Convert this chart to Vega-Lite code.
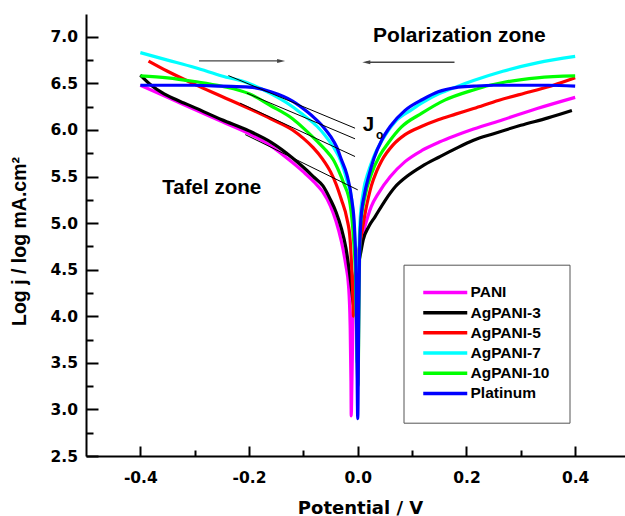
{
  "$schema": "https://vega.github.io/schema/vega-lite/v6.json",
  "width": 539,
  "height": 442,
  "autosize": {"type": "none"},
  "padding": {"left": 86, "top": 14, "right": 0, "bottom": 60},
  "background": "white",
  "config": {"view": {"stroke": null}, "axis": {"grid": false}},
  "resolve": {"axis": {"x": "independent", "y": "independent"}},
  "datasets": {
    "curves": [
      {"s":"PANI","x":-0.40,"y":6.48},{"s":"PANI","x":-0.35,"y":6.35},{"s":"PANI","x":-0.30,"y":6.22},{"s":"PANI","x":-0.25,"y":6.09},{"s":"PANI","x":-0.20,"y":5.96},{"s":"PANI","x":-0.16,"y":5.83},{"s":"PANI","x":-0.12,"y":5.65},{"s":"PANI","x":-0.10,"y":5.55},{"s":"PANI","x":-0.08,"y":5.44},{"s":"PANI","x":-0.065,"y":5.34},{"s":"PANI","x":-0.05,"y":5.18},{"s":"PANI","x":-0.04,"y":5.02},{"s":"PANI","x":-0.03,"y":4.80},{"s":"PANI","x":-0.022,"y":4.55},{"s":"PANI","x":-0.017,"y":4.33},{"s":"PANI","x":-0.014,"y":3.90},{"s":"PANI","x":-0.0125,"y":3.30},{"s":"PANI","x":-0.012,"y":2.93},{"s":"PANI","x":-0.011,"y":3.20},{"s":"PANI","x":-0.009,"y":3.90},{"s":"PANI","x":-0.006,"y":4.35},{"s":"PANI","x":-0.002,"y":4.60},{"s":"PANI","x":0.004,"y":4.75},{"s":"PANI","x":0.013,"y":4.96},{"s":"PANI","x":0.025,"y":5.18},{"s":"PANI","x":0.038,"y":5.32},{"s":"PANI","x":0.06,"y":5.50},{"s":"PANI","x":0.087,"y":5.66},{"s":"PANI","x":0.118,"y":5.78},{"s":"PANI","x":0.15,"y":5.87},{"s":"PANI","x":0.18,"y":5.94},{"s":"PANI","x":0.213,"y":6.01},{"s":"PANI","x":0.267,"y":6.11},{"s":"PANI","x":0.33,"y":6.23},{"s":"PANI","x":0.40,"y":6.35},
      {"s":"AgPANI-3","x":-0.40,"y":6.59},{"s":"AgPANI-3","x":-0.38,"y":6.48},{"s":"AgPANI-3","x":-0.36,"y":6.40},{"s":"AgPANI-3","x":-0.34,"y":6.34},{"s":"AgPANI-3","x":-0.32,"y":6.29},{"s":"AgPANI-3","x":-0.30,"y":6.24},{"s":"AgPANI-3","x":-0.25,"y":6.11},{"s":"AgPANI-3","x":-0.20,"y":5.99},{"s":"AgPANI-3","x":-0.16,"y":5.87},{"s":"AgPANI-3","x":-0.12,"y":5.70},{"s":"AgPANI-3","x":-0.10,"y":5.60},{"s":"AgPANI-3","x":-0.08,"y":5.49},{"s":"AgPANI-3","x":-0.064,"y":5.40},{"s":"AgPANI-3","x":-0.05,"y":5.25},{"s":"AgPANI-3","x":-0.04,"y":5.12},{"s":"AgPANI-3","x":-0.03,"y":4.94},{"s":"AgPANI-3","x":-0.022,"y":4.74},{"s":"AgPANI-3","x":-0.017,"y":4.55},{"s":"AgPANI-3","x":-0.012,"y":4.32},{"s":"AgPANI-3","x":-0.009,"y":4.17},{"s":"AgPANI-3","x":-0.007,"y":4.10},{"s":"AgPANI-3","x":-0.005,"y":4.25},{"s":"AgPANI-3","x":-0.002,"y":4.45},{"s":"AgPANI-3","x":0.002,"y":4.58},{"s":"AgPANI-3","x":0.006,"y":4.70},{"s":"AgPANI-3","x":0.01,"y":4.82},{"s":"AgPANI-3","x":0.02,"y":4.96},{"s":"AgPANI-3","x":0.032,"y":5.07},{"s":"AgPANI-3","x":0.05,"y":5.24},{"s":"AgPANI-3","x":0.069,"y":5.39},{"s":"AgPANI-3","x":0.09,"y":5.50},{"s":"AgPANI-3","x":0.118,"y":5.61},{"s":"AgPANI-3","x":0.15,"y":5.71},{"s":"AgPANI-3","x":0.18,"y":5.80},{"s":"AgPANI-3","x":0.213,"y":5.89},{"s":"AgPANI-3","x":0.25,"y":5.96},{"s":"AgPANI-3","x":0.30,"y":6.05},{"s":"AgPANI-3","x":0.35,"y":6.13},{"s":"AgPANI-3","x":0.394,"y":6.21},
      {"s":"AgPANI-5","x":-0.385,"y":6.74},{"s":"AgPANI-5","x":-0.35,"y":6.63},{"s":"AgPANI-5","x":-0.30,"y":6.49},{"s":"AgPANI-5","x":-0.25,"y":6.36},{"s":"AgPANI-5","x":-0.20,"y":6.23},{"s":"AgPANI-5","x":-0.16,"y":6.12},{"s":"AgPANI-5","x":-0.12,"y":6.00},{"s":"AgPANI-5","x":-0.10,"y":5.91},{"s":"AgPANI-5","x":-0.082,"y":5.81},{"s":"AgPANI-5","x":-0.065,"y":5.69},{"s":"AgPANI-5","x":-0.05,"y":5.55},{"s":"AgPANI-5","x":-0.04,"y":5.42},{"s":"AgPANI-5","x":-0.03,"y":5.25},{"s":"AgPANI-5","x":-0.02,"y":5.05},{"s":"AgPANI-5","x":-0.014,"y":4.82},{"s":"AgPANI-5","x":-0.011,"y":4.50},{"s":"AgPANI-5","x":-0.009,"y":4.20},{"s":"AgPANI-5","x":-0.008,"y":4.00},{"s":"AgPANI-5","x":-0.006,"y":4.30},{"s":"AgPANI-5","x":-0.003,"y":4.55},{"s":"AgPANI-5","x":0.0,"y":4.65},{"s":"AgPANI-5","x":0.004,"y":4.78},{"s":"AgPANI-5","x":0.008,"y":4.92},{"s":"AgPANI-5","x":0.015,"y":5.15},{"s":"AgPANI-5","x":0.025,"y":5.40},{"s":"AgPANI-5","x":0.035,"y":5.56},{"s":"AgPANI-5","x":0.044,"y":5.67},{"s":"AgPANI-5","x":0.065,"y":5.84},{"s":"AgPANI-5","x":0.087,"y":5.95},{"s":"AgPANI-5","x":0.118,"y":6.04},{"s":"AgPANI-5","x":0.148,"y":6.11},{"s":"AgPANI-5","x":0.18,"y":6.17},{"s":"AgPANI-5","x":0.213,"y":6.23},{"s":"AgPANI-5","x":0.26,"y":6.32},{"s":"AgPANI-5","x":0.317,"y":6.41},{"s":"AgPANI-5","x":0.36,"y":6.48},{"s":"AgPANI-5","x":0.40,"y":6.56},
      {"s":"AgPANI-7","x":-0.40,"y":6.83},{"s":"AgPANI-7","x":-0.35,"y":6.75},{"s":"AgPANI-7","x":-0.30,"y":6.67},{"s":"AgPANI-7","x":-0.25,"y":6.58},{"s":"AgPANI-7","x":-0.20,"y":6.50},{"s":"AgPANI-7","x":-0.16,"y":6.39},{"s":"AgPANI-7","x":-0.12,"y":6.25},{"s":"AgPANI-7","x":-0.10,"y":6.16},{"s":"AgPANI-7","x":-0.075,"y":6.04},{"s":"AgPANI-7","x":-0.06,"y":5.94},{"s":"AgPANI-7","x":-0.045,"y":5.82},{"s":"AgPANI-7","x":-0.03,"y":5.65},{"s":"AgPANI-7","x":-0.02,"y":5.46},{"s":"AgPANI-7","x":-0.011,"y":5.25},{"s":"AgPANI-7","x":-0.006,"y":4.85},{"s":"AgPANI-7","x":-0.003,"y":4.30},{"s":"AgPANI-7","x":-0.001,"y":3.50},{"s":"AgPANI-7","x":0.001,"y":4.30},{"s":"AgPANI-7","x":0.004,"y":5.00},{"s":"AgPANI-7","x":0.01,"y":5.33},{"s":"AgPANI-7","x":0.02,"y":5.56},{"s":"AgPANI-7","x":0.03,"y":5.72},{"s":"AgPANI-7","x":0.045,"y":5.89},{"s":"AgPANI-7","x":0.069,"y":6.09},{"s":"AgPANI-7","x":0.1,"y":6.22},{"s":"AgPANI-7","x":0.118,"y":6.29},{"s":"AgPANI-7","x":0.15,"y":6.39},{"s":"AgPANI-7","x":0.18,"y":6.46},{"s":"AgPANI-7","x":0.213,"y":6.53},{"s":"AgPANI-7","x":0.267,"y":6.63},{"s":"AgPANI-7","x":0.33,"y":6.72},{"s":"AgPANI-7","x":0.40,"y":6.79},
      {"s":"AgPANI-10","x":-0.40,"y":6.58},{"s":"AgPANI-10","x":-0.35,"y":6.56},{"s":"AgPANI-10","x":-0.30,"y":6.52},{"s":"AgPANI-10","x":-0.25,"y":6.47},{"s":"AgPANI-10","x":-0.20,"y":6.39},{"s":"AgPANI-10","x":-0.16,"y":6.26},{"s":"AgPANI-10","x":-0.12,"y":6.12},{"s":"AgPANI-10","x":-0.10,"y":6.02},{"s":"AgPANI-10","x":-0.075,"y":5.88},{"s":"AgPANI-10","x":-0.06,"y":5.79},{"s":"AgPANI-10","x":-0.045,"y":5.68},{"s":"AgPANI-10","x":-0.035,"y":5.56},{"s":"AgPANI-10","x":-0.026,"y":5.43},{"s":"AgPANI-10","x":-0.014,"y":5.20},{"s":"AgPANI-10","x":-0.008,"y":4.85},{"s":"AgPANI-10","x":-0.004,"y":4.40},{"s":"AgPANI-10","x":-0.002,"y":3.80},{"s":"AgPANI-10","x":0.0005,"y":3.25},{"s":"AgPANI-10","x":0.002,"y":4.00},{"s":"AgPANI-10","x":0.003,"y":4.50},{"s":"AgPANI-10","x":0.005,"y":4.96},{"s":"AgPANI-10","x":0.012,"y":5.25},{"s":"AgPANI-10","x":0.026,"y":5.54},{"s":"AgPANI-10","x":0.04,"y":5.72},{"s":"AgPANI-10","x":0.056,"y":5.86},{"s":"AgPANI-10","x":0.08,"y":6.03},{"s":"AgPANI-10","x":0.118,"y":6.18},{"s":"AgPANI-10","x":0.16,"y":6.32},{"s":"AgPANI-10","x":0.213,"y":6.43},{"s":"AgPANI-10","x":0.243,"y":6.48},{"s":"AgPANI-10","x":0.267,"y":6.51},{"s":"AgPANI-10","x":0.33,"y":6.56},{"s":"AgPANI-10","x":0.40,"y":6.58},
      {"s":"Platinum","x":-0.40,"y":6.48},{"s":"Platinum","x":-0.35,"y":6.48},{"s":"Platinum","x":-0.30,"y":6.48},{"s":"Platinum","x":-0.25,"y":6.47},{"s":"Platinum","x":-0.20,"y":6.46},{"s":"Platinum","x":-0.16,"y":6.41},{"s":"Platinum","x":-0.12,"y":6.31},{"s":"Platinum","x":-0.094,"y":6.20},{"s":"Platinum","x":-0.08,"y":6.13},{"s":"Platinum","x":-0.063,"y":6.03},{"s":"Platinum","x":-0.05,"y":5.93},{"s":"Platinum","x":-0.039,"y":5.82},{"s":"Platinum","x":-0.03,"y":5.68},{"s":"Platinum","x":-0.02,"y":5.52},{"s":"Platinum","x":-0.011,"y":5.25},{"s":"Platinum","x":-0.006,"y":4.95},{"s":"Platinum","x":-0.003,"y":4.40},{"s":"Platinum","x":-0.0015,"y":3.60},{"s":"Platinum","x":0.0,"y":2.90},{"s":"Platinum","x":0.0015,"y":3.80},{"s":"Platinum","x":0.003,"y":4.60},{"s":"Platinum","x":0.006,"y":5.05},{"s":"Platinum","x":0.012,"y":5.30},{"s":"Platinum","x":0.02,"y":5.50},{"s":"Platinum","x":0.03,"y":5.70},{"s":"Platinum","x":0.044,"y":5.89},{"s":"Platinum","x":0.06,"y":6.04},{"s":"Platinum","x":0.087,"y":6.21},{"s":"Platinum","x":0.12,"y":6.33},{"s":"Platinum","x":0.148,"y":6.41},{"s":"Platinum","x":0.18,"y":6.455},{"s":"Platinum","x":0.213,"y":6.47},{"s":"Platinum","x":0.25,"y":6.48},{"s":"Platinum","x":0.30,"y":6.48},{"s":"Platinum","x":0.35,"y":6.48},{"s":"Platinum","x":0.40,"y":6.47}
    ],
    "tangents": [
      {"x": -0.238, "y": 6.584, "x2": -0.005, "y2": 6.019},
      {"x": -0.204, "y": 6.395, "x2": -0.005, "y2": 5.905},
      {"x": -0.2166, "y": 6.288, "x2": -0.005, "y2": 5.715},
      {"x": -0.207, "y": 5.95, "x2": 0.0, "y2": 5.357}
    ],
    "arrows": [
      {"x": -0.292, "x2": -0.141, "y": 6.741},
      {"x": 0.0158, "x2": 0.178, "y": 6.727}
    ]
  },
  "layer": [
    {
      "mark": {"type": "rule", "strokeDash": [5, 4], "color": "#333333", "strokeWidth": 1.2},
      "encoding": {"x": {"datum": -0.12, "axis": null}}
    },
    {
      "mark": {"type": "rule", "color": "#444444", "strokeWidth": 1.2},
      "encoding": {"x": {"datum": -0.005, "axis": null}}
    },
    {
      "data": {"name": "curves"},
      "mark": {"type": "line", "strokeWidth": 3.2, "interpolate": "monotone"},
      "encoding": {
        "x": {
          "field": "x", "type": "quantitative",
          "scale": {"domain": [-0.5, 0.4917], "nice": false, "zero": false},
          "axis": {
            "orient": "bottom",
            "values": [-0.4, -0.2, 0, 0.2, 0.4],
            "labelExpr": "(datum.value < -0.001 ? '-' : '') + format(abs(datum.value), '.1f')",
            "ticks": false,
            "domainColor": "black", "domainWidth": 2,
            "labelFont": "DejaVu Sans", "labelFontWeight": "bold", "labelFontSize": 15.5, "labelColor": "black",
            "labelPadding": 14, "labelOverlap": false, "labelFlush": false,
            "title": "Potential / V", "titleFont": "DejaVu Sans", "titleFontWeight": "bold", "titleFontSize": 18, "titleColor": "black",
            "titleX": 274, "titleY": 57, "titleBaseline": "alphabetic", "titleAlign": "center",
            "grid": false
          }
        },
        "y": {
          "field": "y", "type": "quantitative",
          "scale": {"domain": [2.5, 7.245], "nice": false, "zero": false},
          "axis": {
            "orient": "left",
            "values": [2.5, 3.0, 3.5, 4.0, 4.5, 5.0, 5.5, 6.0, 6.5, 7.0],
            "format": ".1f",
            "ticks": false,
            "domainColor": "black", "domainWidth": 2,
            "labelFont": "DejaVu Sans", "labelFontWeight": "bold", "labelFontSize": 15.5, "labelColor": "black",
            "labelPadding": 8.5, "labelOverlap": false, "labelFlush": false,
            "title": "Log j / log mA.cm²", "titleFont": "Liberation Sans", "titleFontWeight": "bold", "titleFontSize": 19.5, "titleColor": "black",
            "titleX": -67, "titleY": 227, "titleBaseline": "middle", "titleAlign": "center", "titleAngle": -90,
            "grid": false
          }
        },
        "color": {
          "field": "s", "type": "nominal",
          "scale": {
            "domain": ["PANI", "AgPANI-3", "AgPANI-5", "AgPANI-7", "AgPANI-10", "Platinum"],
            "range": ["#FF00FF", "#000000", "#FF0000", "#00FFFF", "#00FF00", "#0000FF"]
          },
          "legend": {
            "orient": "none", "legendX": 317.5, "legendY": 250.7, "title": null,
            "strokeColor": "#555555", "fillColor": "white", "padding": 20,
            "symbolType": "M-4.4,0H4.4", "symbolSize": 100, "symbolStrokeWidth": 3.5, "symbolOffset": 14,
            "labelFont": "Liberation Sans", "labelFontWeight": "bold", "labelFontSize": 15.5, "labelColor": "black",
            "labelOffset": 17.5, "rowPadding": 3.2
          }
        }
      }
    },
    {
      "mark": {"type": "rule", "color": "black", "strokeWidth": 2},
      "encoding": {"y": {"datum": 7.245, "axis": null}}
    },
    {
      "data": {"name": "tangents"},
      "mark": {"type": "rule", "color": "black", "strokeWidth": 1},
      "encoding": {
        "x": {"field": "x", "type": "quantitative",
          "axis": {"orient": "bottom", "values": [-0.4, -0.2, 0, 0.2, 0.4], "offset": -10, "tickSize": 10, "tickWidth": 2, "tickColor": "#000000", "ticks": true, "domain": false, "labels": false, "title": null, "grid": false}},
        "y": {"field": "y", "type": "quantitative",
          "axis": {"orient": "left", "values": [2.5, 3.0, 3.5, 4.0, 4.5, 5.0, 5.5, 6.0, 6.5, 7.0], "offset": -12, "tickSize": 12, "tickWidth": 2, "tickColor": "#000000", "ticks": true, "domain": false, "labels": false, "title": null, "grid": false}},
        "x2": {"field": "x2"},
        "y2": {"field": "y2"}
      }
    },
    {
      "data": {"name": "arrows"},
      "mark": {"type": "rule", "color": "#444444", "strokeWidth": 1.3},
      "encoding": {
        "x": {"field": "x", "type": "quantitative",
          "axis": {"orient": "bottom", "values": [-0.3, -0.1, 0.1, 0.3], "offset": -6, "tickSize": 6, "tickWidth": 2, "tickColor": "#000000", "ticks": true, "domain": false, "labels": false, "title": null, "grid": false}},
        "x2": {"field": "x2"},
        "y": {"field": "y", "type": "quantitative",
          "axis": {"orient": "left", "values": [2.75, 3.25, 3.75, 4.25, 4.75, 5.25, 5.75, 6.25, 6.75], "offset": -7, "tickSize": 7, "tickWidth": 2, "tickColor": "#000000", "ticks": true, "domain": false, "labels": false, "title": null, "grid": false}}
      }
    },
    {
      "data": {"values": [{"x": -0.141, "y": 6.741}]},
      "mark": {"type": "point", "shape": "M-1,-0.5L1,0L-1,0.5Z", "filled": true, "color": "#444444", "size": 64, "opacity": 1},
      "encoding": {
        "x": {"field": "x", "type": "quantitative", "axis": null},
        "y": {"field": "y", "type": "quantitative", "axis": null}
      }
    },
    {
      "data": {"values": [{"x": 0.0158, "y": 6.727}]},
      "mark": {"type": "point", "shape": "M1,-0.5L-1,0L1,0.5Z", "filled": true, "color": "#444444", "size": 64, "opacity": 1},
      "encoding": {
        "x": {"field": "x", "type": "quantitative", "axis": null},
        "y": {"field": "y", "type": "quantitative", "axis": null}
      }
    },
    {
      "data": {"values": [{"x": 0.0282, "y": 6.942, "t": "Polarization zone"}]},
      "mark": {"type": "text", "font": "Liberation Sans", "fontWeight": "bold", "fontSize": 21, "align": "left", "baseline": "alphabetic", "color": "black"},
      "encoding": {
        "x": {"field": "x", "type": "quantitative", "axis": null},
        "y": {"field": "y", "type": "quantitative", "axis": null},
        "text": {"field": "t"}
      }
    },
    {
      "data": {"values": [{"x": -0.3595, "y": 5.311, "t": "Tafel zone"}]},
      "mark": {"type": "text", "font": "Liberation Sans", "fontWeight": "bold", "fontSize": 20.5, "align": "left", "baseline": "alphabetic", "color": "black"},
      "encoding": {
        "x": {"field": "x", "type": "quantitative", "axis": null},
        "y": {"field": "y", "type": "quantitative", "axis": null},
        "text": {"field": "t"}
      }
    },
    {
      "data": {"values": [{"x": 0.0092, "y": 5.985, "t": "J"}]},
      "mark": {"type": "text", "font": "Liberation Sans", "fontWeight": "bold", "fontSize": 20.5, "align": "left", "baseline": "alphabetic", "color": "black"},
      "encoding": {
        "x": {"field": "x", "type": "quantitative", "axis": null},
        "y": {"field": "y", "type": "quantitative", "axis": null},
        "text": {"field": "t"}
      }
    },
    {
      "data": {"values": [{"x": 0.0337, "y": 5.901, "t": "o"}]},
      "mark": {"type": "text", "font": "Liberation Sans", "fontWeight": "bold", "fontSize": 12, "align": "left", "baseline": "alphabetic", "color": "black"},
      "encoding": {
        "x": {"field": "x", "type": "quantitative", "axis": null},
        "y": {"field": "y", "type": "quantitative", "axis": null},
        "text": {"field": "t"}
      }
    }
  ]
}
